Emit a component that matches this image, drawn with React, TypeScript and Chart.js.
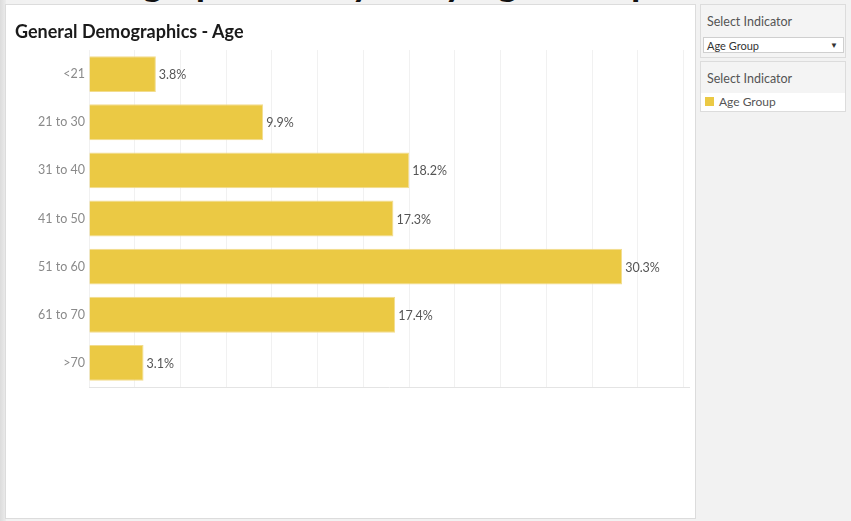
import React, { useEffect, useRef } from "react";
import { Chart, registerables } from "chart.js";

Chart.register(...registerables);

const categories = ["<21", "21 to 30", "31 to 40", "41 to 50", "51 to 60", "61 to 70", ">70"];
const values = [3.8, 9.9, 18.2, 17.3, 30.3, 17.4, 3.1];
const gridStep = 2.6;
const gridCount = 13;
const axisMax = 34.1;

const FONT = "Lato, 'Open Sans', sans-serif";

const labelPlugin = {
  id: "barValueLabels",
  afterDatasetsDraw(chart: any) {
    const ctx = chart.ctx;
    const meta = chart.getDatasetMeta(0);
    ctx.save();
    ctx.font = `12.5px ${FONT}`;
    ctx.fillStyle = "#555555";
    ctx.textAlign = "left";
    ctx.textBaseline = "middle";
    meta.data.forEach((bar: any, i: number) => {
      ctx.fillText(values[i].toFixed(1) + "%", bar.x + 3, bar.y + 1);
    });
    ctx.restore();
  },
};

function BarChart() {
  const ref = useRef<HTMLCanvasElement | null>(null);
  useEffect(() => {
    if (!ref.current) return;
    const chart = new Chart(ref.current, {
      type: "bar",
      data: {
        labels: categories,
        datasets: [
          {
            data: values,
            backgroundColor: "#EBC944",
            borderColor: "#F2DC8E",
            borderWidth: 1,
            categoryPercentage: 1,
            barPercentage: 0.745,
          },
        ],
      },
      options: {
        indexAxis: "y",
        animation: false,
        responsive: false,
        maintainAspectRatio: false,
        layout: { padding: { top: 45, bottom: 131, left: 0, right: 6 } },
        plugins: { legend: { display: false }, tooltip: { enabled: false }, title: { display: false } },
        scales: {
          x: {
            min: 0,
            max: axisMax,
            afterBuildTicks(scale: any) {
              const t = [];
              for (let i = 0; i <= gridCount; i++) t.push({ value: +(i * gridStep).toFixed(2) });
              scale.ticks = t;
            },
            afterFit(scale: any) {
              scale.height = 0;
            },
            ticks: { display: false },
            grid: { color: "#f1f1f1", lineWidth: 1, drawTicks: false },
            border: { display: true, color: "#e4e4e4" },
          },
          y: {
            afterFit(scale: any) {
              scale.width = 83;
            },
            ticks: { color: "#8a8a8a", font: { family: FONT, size: 12.5 }, padding: 4 },
            grid: { display: false, drawTicks: false },
            border: { display: false },
          },
        },
      },
      plugins: [labelPlugin],
    });
    return () => chart.destroy();
  }, []);
  return <canvas ref={ref} width={689} height={513} style={{ display: "block" }} />;
}

export default function App() {
  useEffect(() => {
    document.body.style.margin = "0";
  }, []);
  return (
    <div
      style={{
        position: "fixed",
        left: 0,
        top: 0,
        width: 851,
        height: 521,
        background: "#f2f2f2",
        overflow: "hidden",
        fontFamily: FONT,
      }}
    >
      <div style={{ position: "absolute", left: 0, top: 0, width: 6, height: 521, background: "linear-gradient(to right,#dcdcdc,#ececec)" }} />
      <div style={{ position: "absolute", left: 0, top: 0, width: 851, height: 5, overflow: "hidden" }}>
        <div
          style={{
            position: "absolute",
            left: 40,
            top: -42,
            fontSize: 38,
            fontWeight: 700,
            color: "#111",
            whiteSpace: "nowrap",
            fontFamily: FONT,
          }}
        >
          Demographic Analysis by Age Group
        </div>
      </div>
      <div
        style={{
          position: "absolute",
          left: 6,
          top: 5,
          width: 689,
          height: 513,
          background: "#ffffff",
          boxShadow: "0 0 0 1px #dcdcdc",
        }}
      >
        <BarChart />
        <div
          style={{
            position: "absolute",
            left: 9,
            top: 15,
            fontSize: 18,
            fontWeight: 700,
            color: "#1a1a1a",
            whiteSpace: "nowrap",
          }}
        >
          General Demographics - Age
        </div>
      </div>
      <div
        style={{
          position: "absolute",
          left: 701,
          top: 5,
          width: 144,
          height: 52,
          background: "#f4f4f4",
          boxShadow: "0 0 0 1px #dcdcdc",
        }}
      >
        <div style={{ position: "absolute", left: 6, top: 9, fontSize: 12.5, color: "#555" }}>Select Indicator</div>
        <div
          style={{
            position: "absolute",
            left: 3,
            top: 33,
            width: 139,
            height: 14,
            background: "#fff",
            boxShadow: "0 0 0 1px #cfcfcf",
          }}
        >
          <div style={{ position: "absolute", left: 3, top: 0, fontSize: 11, color: "#333", lineHeight: "15px" }}>Age Group</div>
          <div style={{ position: "absolute", right: 5, top: 0, fontSize: 8, color: "#333", lineHeight: "14px" }}>▼</div>
        </div>
      </div>
      <div
        style={{
          position: "absolute",
          left: 701,
          top: 62,
          width: 144,
          height: 49,
          background: "#f4f4f4",
          boxShadow: "0 0 0 1px #dcdcdc",
        }}
      >
        <div style={{ position: "absolute", left: 6, top: 9, fontSize: 12.5, color: "#555" }}>Select Indicator</div>
        <div style={{ position: "absolute", left: 0, top: 31, width: 144, height: 18, background: "#fff" }}>
          <div style={{ position: "absolute", left: 4, top: 4, width: 9, height: 9, background: "#EBC944" }} />
          <div style={{ position: "absolute", left: 18, top: 1, fontSize: 12, color: "#555", lineHeight: "16px" }}>Age Group</div>
        </div>
      </div>
    </div>
  );
}
